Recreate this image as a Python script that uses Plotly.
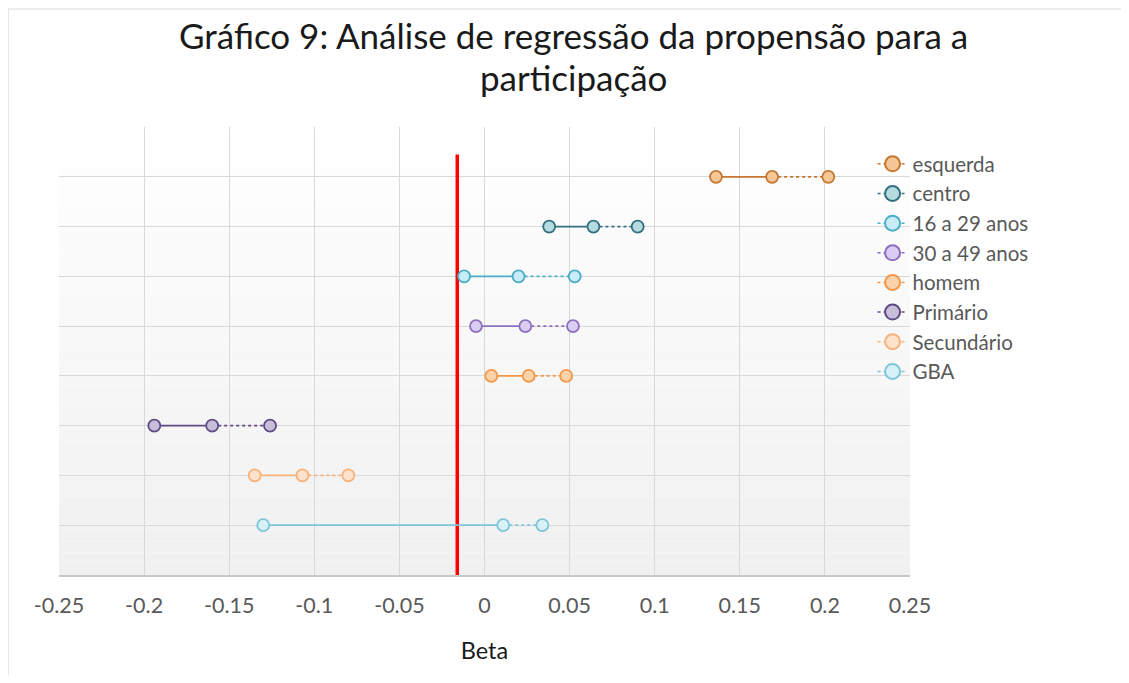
import plotly.graph_objects as go

# ---- data ----
categories = ["esquerda", "centro", "16 a 29 anos", "30 a 49 anos", "homem",
              "Primário", "Secundário", "GBA"]
row_pos = [8, 7, 6, 5, 4, 3, 2, 1]
lower = [0.136, 0.038, -0.012, -0.005, 0.004, -0.194, -0.135, -0.130]
beta = [0.169, 0.064, 0.020, 0.024, 0.026, -0.160, -0.107, 0.011]
upper = [0.202, 0.090, 0.053, 0.052, 0.048, -0.126, -0.080, 0.034]
ref_x = [-0.016, -0.016]
ref_y = [0, 8.45]
tick_vals = [-0.25, -0.2, -0.15, -0.1, -0.05, 0, 0.05, 0.1, 0.15, 0.2, 0.25]
tick_text = ["-0.25", "-0.2", "-0.15", "-0.1", "-0.05", "0", "0.05", "0.1", "0.15", "0.2", "0.25"]

# ---- styles ----
border = ["#C5762F", "#31707F", "#4BACC6", "#8D6FC0", "#F79646", "#5F4A86", "#F9B27A", "#7DC6DA"]
fill = ["#F6C796", "#B7D9E0", "#C8ECF6", "#DACDF1", "#FBD3AA", "#C9BEDA", "#FDE2CC", "#D8F1F7"]

fig = go.Figure()

# reference line
fig.add_trace(go.Scatter(x=ref_x, y=ref_y, mode="lines",
                         line=dict(color="#FF0000", width=3.5),
                         showlegend=False, hoverinfo="skip"))

for i, name in enumerate(categories):
    y = row_pos[i]
    fig.add_trace(go.Scatter(x=[lower[i], beta[i]], y=[y, y], mode="lines",
                             line=dict(color=border[i], width=1.8),
                             showlegend=False, hoverinfo="skip"))
    fig.add_trace(go.Scatter(x=[beta[i], upper[i]], y=[y, y], mode="lines",
                             line=dict(color=border[i], width=1.8, dash="dot"),
                             showlegend=False, hoverinfo="skip"))
    fig.add_trace(go.Scatter(x=[lower[i], beta[i], upper[i]], y=[y, y, y],
                             mode="markers", name=name, showlegend=False,
                             marker=dict(size=12, color=fill[i],
                                         line=dict(color=border[i], width=1.8))))

# legend entries
for i, name in enumerate(categories):
    fig.add_trace(go.Scatter(x=[None], y=[None], mode="lines+markers", name=name,
                             line=dict(color=border[i], width=1.5, dash="dot"),
                             marker=dict(size=15, color=fill[i],
                                         line=dict(color=border[i], width=2))))

# gradient background bands
shapes = []
n = 40
for k in range(n):
    t = (k + 0.5) / n
    c = int(round(255 - (255 - 240) * (1 - t)))
    shapes.append(dict(type="rect", xref="x domain", yref="y domain",
                       x0=0, x1=1, y0=k / n, y1=(k + 1) / n,
                       fillcolor=f"rgb({c},{c},{c})", line=dict(width=0),
                       layer="below"))
# outer chart border
shapes.append(dict(type="rect", xref="paper", yref="paper",
                   x0=-0.0599, x1=1.6, y0=-1.0, y1=1.2634,
                   line=dict(color="#D9D9D9", width=1.2), fillcolor="rgba(0,0,0,0)",
                   layer="above"))

fig.update_layout(
    width=1121, height=667,
    margin=dict(l=51, r=219, t=119, b=100),
    paper_bgcolor="white", plot_bgcolor="white",
    font=dict(family="Lato", color="#595959"),
    shapes=shapes,
    showlegend=True,
    legend=dict(x=0.956, y=0.962, xanchor="left", yanchor="top",
                font=dict(size=20.5, color="#595959"),
                itemwidth=30, tracegroupgap=0, bgcolor="rgba(0,0,0,0)"),
    annotations=[
        dict(text="Gráfico 9: Análise de regressão da propensão para a",
             xref="paper", yref="paper", x=0.605, y=1.2054,
             xanchor="center", yanchor="middle", showarrow=False,
             font=dict(size=35, color="#1A1A1A", family="Lato")),
        dict(text="participação",
             xref="paper", yref="paper", x=0.605, y=1.1116,
             xanchor="center", yanchor="middle", showarrow=False,
             font=dict(size=35, color="#1A1A1A", family="Lato")),
    ],
)

fig.update_xaxes(range=[-0.25, 0.25], tickvals=tick_vals, ticktext=tick_text,
                 showgrid=True, gridcolor="#D9D9D9", gridwidth=1.2,
                 zeroline=False, showline=True, linecolor="#C8C8C8", linewidth=1.5,
                 ticks="", ticklabelstandoff=10,
                 tickfont=dict(size=21.5, color="#595959"),
                 title=dict(text="Beta", font=dict(size=23.5, color="#1A1A1A"), standoff=26))
fig.update_yaxes(range=[0, 9], dtick=1, showticklabels=False, showgrid=True,
                 gridcolor="#D9D9D9", gridwidth=1.2, zeroline=False, showline=False)

fig.write_html("out.html")
